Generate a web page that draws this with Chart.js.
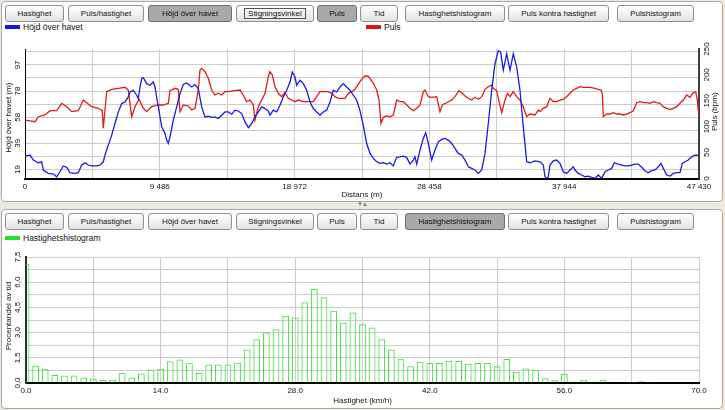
<!DOCTYPE html>
<html><head><meta charset="utf-8">
<script src="https://cdn.jsdelivr.net/npm/chart.js@4.4.0/dist/chart.umd.min.js"></script>
<style>
html,body{margin:0;padding:0;width:725px;height:410px;overflow:hidden;background:#ece9e0;font-family:"Liberation Sans",Arial,sans-serif;}
.panel{position:absolute;background:#fff;border:1px solid #a8a8a8;border-radius:4px;box-sizing:border-box;}
.btn{position:absolute;height:17px;line-height:15px;font-size:8px;text-align:center;border:1px solid #8e8e8e;border-radius:3px;background:linear-gradient(#ffffff,#e2e2e2);color:#111;box-sizing:border-box;white-space:nowrap;}
.btn.on{background:#a9a9a9;border-color:#6e6e6e;}
.btn.focus span{border:1px solid #555;padding:0 3px;}
.leg{position:absolute;font-size:8.5px;line-height:10px;color:#111;}
.sw{position:absolute;width:15px;height:4px;}
canvas{position:absolute;}
#split{position:absolute;left:357px;top:201px;font-size:6px;color:#7a7a7a;letter-spacing:-1px;}
</style>
</head><body>
<div class="panel" style="left:1px;top:1px;width:722px;height:201px;"></div>
<div class="panel" style="left:1px;top:209px;width:722px;height:200px;"></div>
<div id="split">▼▲</div>

<div class="btn" style="left:5px;top:5px;width:59px;">Hastighet</div>
<div class="btn" style="left:68px;top:5px;width:76px;">Puls/hastighet</div>
<div class="btn on" style="left:148px;top:5px;width:84px;">Höjd över havet</div>
<div class="btn focus" style="left:236px;top:5px;width:78px;"><span>Stigningsvinkel</span></div>
<div class="btn on" style="left:317px;top:5px;width:40px;">Puls</div>
<div class="btn" style="left:360px;top:5px;width:38px;">Tid</div>
<div class="btn" style="left:405px;top:5px;width:100px;">Hastighetshistogram</div>
<div class="btn" style="left:508px;top:5px;width:101px;">Puls kontra hastighet</div>
<div class="btn" style="left:617px;top:5px;width:77px;">Pulshistogram</div>

<div class="sw" style="left:5px;top:25px;background:#1515e0;"></div>
<div class="leg" style="left:23px;top:22px;">Höjd över havet</div>
<div class="sw" style="left:366px;top:25px;background:#e01515;"></div>
<div class="leg" style="left:384px;top:22px;">Puls</div>

<div class="btn" style="left:5px;top:213px;width:59px;">Hastighet</div>
<div class="btn" style="left:68px;top:213px;width:76px;">Puls/hastighet</div>
<div class="btn" style="left:148px;top:213px;width:84px;">Höjd över havet</div>
<div class="btn" style="left:236px;top:213px;width:78px;">Stigningsvinkel</div>
<div class="btn" style="left:317px;top:213px;width:40px;">Puls</div>
<div class="btn" style="left:360px;top:213px;width:38px;">Tid</div>
<div class="btn on" style="left:405px;top:213px;width:100px;">Hastighetshistogram</div>
<div class="btn" style="left:508px;top:213px;width:101px;">Puls kontra hastighet</div>
<div class="btn" style="left:617px;top:213px;width:77px;">Pulshistogram</div>

<div class="sw" style="left:5px;top:236px;background:#22e022;"></div>
<div class="leg" style="left:23px;top:233px;">Hastighetshistogram</div>

<canvas id="c1" width="725" height="162" style="left:0;top:40px;width:725px;height:162px;"></canvas>
<canvas id="c2" width="725" height="161" style="left:0;top:247px;width:725px;height:161px;"></canvas>

<script>
// ---------- DATA: top chart (distance in m) ----------
const hojdDist = [0,352,584,936,1175,1288,1640,1991,2231,2463,2695,2934,3167,3519,3751,3990,4222,4454,4694,5045,5278,5510,5630,5862,6101,6333,6566,6805,7037,7269,7389,7621,7860,7973,8093,8212,8325,8564,8796,9028,9148,9380,9620,9852,9971,10084,10204,10436,10675,10907,11139,11379,11731,11963,12195,12434,12667,12899,13138,13370,13603,13842,14074,14306,14546,14778,15010,15249,15481,15714,15953,16185,16417,16657,16889,17121,17241,17473,17712,17944,18176,18416,18648,18810,19000,19120,19352,19584,19823,20055,20288,20527,20759,20991,21231,21463,21695,21935,22167,22399,22638,22870,23103,23342,23574,23806,24046,24278,24510,24750,24982,25214,25453,25685,25918,26157,26389,26621,26861,27093,27325,27444,27564,27796,28028,28197,28380,28619,28852,29084,29323,29555,29787,30027,30259,30491,30731,30963,31195,31434,31667,31899,32138,32370,32603,32842,33074,33306,33475,33658,33897,34129,34362,34601,34833,35065,35305,35537,35889,36241,36473,36592,36712,36825,36944,37177,37416,37648,37880,38120,38352,38584,38704,38936,39175,39407,39639,39879,40111,40343,40583,40815,41047,41286,41469,41751,41990,42222,42454,42694,42926,43158,43398,43630,43862,44102,44334,44566,44755,44917,45156,45389,45621,45860,46092,46254,46444,46676,46916,47148,47380];
const hojd = [29.3,30.1,26.4,24.4,25.1,19.0,16.5,16.0,14.0,17.7,22.0,21.0,17.0,16.5,17.0,22.7,24.4,22.7,22.0,22.0,22.7,25.1,30.1,37.5,44.9,53.5,62.1,68.3,69.5,73.2,76.9,78.2,74.5,72.0,80.6,86.8,87.5,83.1,81.9,84.3,80.6,65.8,51.0,46.1,41.2,38.7,43.6,56.0,65.8,75.7,82.5,83.6,80.6,82.4,79.4,65.8,58.4,58.9,58.0,58.4,57.2,59.7,62.1,62.1,60.4,63.4,62.8,60.9,54.7,50.5,53.5,58.4,62.1,65.8,64.6,62.8,59.7,63.4,62.1,67.1,73.2,78.2,84.3,91.7,88.0,81.9,85.6,83.1,78.2,69.5,64.6,62.1,59.7,62.1,63.4,69.5,78.2,76.9,80.6,83.1,80.6,78.2,74.5,70.8,63.0,52.0,38.7,31.3,27.6,25.1,23.9,24.4,23.4,24.4,22.0,28.4,28.8,29.3,28.4,23.4,26.4,28.8,23.4,33.8,42.4,46.6,38.7,26.4,33.8,39.9,41.7,42.4,41.2,38.7,35.0,31.3,30.1,26.4,21.4,20.2,19.0,16.5,19.0,31.3,53.5,78.2,97.9,107.5,106.5,93.0,105.3,93.0,105.3,95.4,78.2,51.0,25.1,24.4,25.8,25.1,22.7,14.0,12.8,14.0,22.7,25.8,26.4,23.9,17.7,16.5,19.0,21.4,19.0,16.5,15.3,14.0,14.5,13.6,12.8,15.3,12.8,17.7,19.0,20.2,24.4,23.4,22.7,22.0,22.0,22.7,23.4,23.4,21.0,18.5,17.0,18.5,19.0,21.4,23.9,20.2,15.3,14.5,16.5,17.0,17.0,23.9,25.1,26.4,28.8,30.1,29.9];

const pulsDist = [0,704,936,1407,1759,2231,2583,2934,3286,3751,4103,4342,4694,5158,5440,5510,5749,6101,6566,7037,7269,7508,7741,8022,8325,8564,8916,9380,9732,10084,10204,10556,10788,10907,11139,11491,11731,11963,12195,12315,12434,12667,12899,13138,13370,13603,13842,14074,14306,14778,15130,15362,15601,15833,16065,16185,16417,16657,16889,17121,17241,17403,17593,17825,18064,18296,18528,18768,19000,19232,19584,19936,20288,20527,20759,21111,21343,21582,21815,22047,22518,22751,22990,23222,23455,23694,23926,24116,24278,24510,24750,24911,25052,25214,25453,25685,25918,26157,26389,26621,26861,27093,27325,27564,27796,28028,28148,28380,28619,28971,29204,29366,29675,30027,30259,30540,30731,30963,31195,31434,31667,31899,32138,32370,32603,32842,32955,33194,33306,33545,33778,33940,34129,34362,34601,34833,35065,35305,35537,35889,36121,36241,36473,36712,36944,37177,37416,37648,37880,38120,38352,38584,38823,39055,39287,39759,40111,40343,40533,40625,40695,40935,41167,41399,41638,41870,42102,42342,42574,42806,43046,43278,43510,43750,43982,44214,44454,44686,44917,45156,45389,45621,45860,46092,46324,46564,46796,46986,47197,47310,47380,47430];
const puls = [112.9,109.7,119.3,122.6,130.9,130.9,145.2,138.6,129.0,130.9,151.5,146.3,138.6,135.5,130.9,96.9,167.6,172.2,174.1,176.1,170.8,119.3,138.6,152.9,135.5,129.0,138.6,141.9,141.9,145.2,169.5,174.1,172.2,129.0,141.9,140.0,132.2,135.5,170.8,209.5,212.7,206.2,193.4,170.8,161.2,164.5,161.2,167.6,167.6,169.5,170.8,161.2,148.3,151.5,141.9,112.9,138.6,151.5,164.5,196.5,206.2,199.8,177.2,164.5,157.9,165.6,154.8,151.5,148.3,151.5,148.3,148.3,148.3,157.9,167.6,167.6,167.6,164.5,157.9,154.8,154.8,164.5,167.6,172.0,182.0,191.8,198.0,197.9,193.4,183.8,170.8,151.5,106.6,118.1,120.7,119.3,122.6,151.5,148.3,148.3,141.9,135.5,130.9,135.5,141.9,167.6,170.8,157.9,156.8,157.9,129.0,141.9,146.3,151.5,157.9,169.5,165.6,159.3,154.8,151.5,156.8,152.9,157.9,172.2,177.2,180.5,174.1,169.5,154.8,127.0,151.5,164.5,157.9,167.6,157.9,151.5,138.6,119.3,124.5,122.6,132.2,129.0,135.5,138.6,154.8,148.3,148.3,151.5,152.9,157.9,164.5,170.8,174.1,177.2,176.1,176.1,174.1,172.2,170.8,164.5,119.3,124.5,124.5,127.0,124.5,124.5,122.6,124.5,127.0,130.9,146.3,148.3,146.3,146.3,145.2,148.3,146.3,145.2,138.6,135.5,133.6,135.5,138.6,145.2,151.5,161.2,156.8,164.5,167.6,151.5,132.2,119.3];

const distTicks = [0,4743,9486,14229,18972,23715,28458,33201,37944,42687,47430];
const distLabels = ['0','9 486','18 972','28 458','37 944','47 430'];
const hojdGrid = [19.4,29.1,38.8,48.5,58.2,67.9,77.6,87.3,97.0,106.7];
const hojdLabelVals = [19.4,38.8,58.2,77.6,97.0];
const hojdLabels = ['19','39','58','78','97'];
const pulsTicks = [0,50,100,150,200,250];
const pulsLabels = ['0','50','100','150','200','250'];

// ---------- DATA: bottom chart (speed histogram) ----------
const speedBins = [0,1,2,3,4,5,6,7,8,9,10,11,12,13,14,15,16,17,18,19,20,21,22,23,24,25,26,27,28,29,30,31,32,33,34,35,36,37,38,39,40,41,42,43,44,45,46,47,48,49,50,51,52,53,54,55,56,57,58,59,60,61,62,63,64,65];
const speedPct = [7.1,1.03,0.85,0.48,0.44,0.44,0.32,0.26,0.18,0.2,0.6,0.32,0.56,0.8,0.85,1.3,1.4,1.2,0.6,1.1,1.1,1.1,1.2,2.0,2.6,3.0,3.2,4.0,3.9,4.8,5.6,5.1,4.3,3.6,4.2,3.5,3.3,2.6,2.0,1.45,1.0,1.27,1.19,1.19,1.33,1.31,1.15,1.19,1.19,1.0,1.43,0.67,0.87,0.77,0.28,0.16,0.54,0.08,0.2,0.08,0.2,0,0,0.06,0.1,0.04];
const speedTicks = [0,7,14,21,28,35,42,49,56,63,70];
const speedLabels = ['0.0','14.0','28.0','42.0','56.0','70.0'];
const pctGrid = [0,0.75,1.5,2.25,3.0,3.75,4.5,5.25,6.0,6.75,7.5];
const pctLabelVals = [0,1.5,3.0,4.5,6.0,7.5];
const pctLabels = ['0,0','1,5','3,0','4,5','6,0','7,5'];

// ---------- rendering ----------
const FONT = '"Liberation Sans", Arial, sans-serif';
const FS = 8;
Chart.defaults.font.family = FONT;
Chart.defaults.font.size = FS;
Chart.defaults.color = '#111';
Chart.defaults.animation = false;

const rotY = {
  id:'rotY',
  afterDraw(chart, args, opts){
    const ctx = chart.ctx, ca = chart.chartArea;
    ctx.save();
    ctx.fillStyle = '#111';
    ctx.textAlign = 'center';
    ctx.textBaseline = 'middle';
    ctx.font = FS + 'px ' + FONT;
    for (const ax of opts.axes){
      const sc = chart.scales[ax.id];
      ax.vals.forEach((v,i)=>{
        const y = sc.getPixelForValue(v);
        ctx.save(); ctx.translate(ax.x, y); ctx.rotate(-Math.PI/2);
        ctx.fillText(ax.labels[i], 0, 0); ctx.restore();
      });
      ctx.save(); ctx.translate(ax.tx, (ca.top+ca.bottom)/2 + (ax.dy||0)); ctx.rotate(-Math.PI/2);
      ctx.fillText(ax.title, 0, 0); ctx.restore();
    }
    ctx.restore();
  }
};

const GRID = '#cbcbcb';

new Chart(document.getElementById('c1'), {
  type:'line',
  data:{datasets:[
    {label:'Höjd över havet', data:hojdDist.map((d,i)=>({x:d,y:hojd[i]})), yAxisID:'y',
     borderColor:'#1a1ae0', borderWidth:1.3, pointRadius:0, tension:0, fill:false},
    {label:'Puls', data:pulsDist.map((d,i)=>({x:d,y:puls[i]})), yAxisID:'y2',
     borderColor:'#e01a1a', borderWidth:1.3, pointRadius:0, tension:0, fill:false}
  ]},
  options:{
    responsive:false, maintainAspectRatio:false,
    layout:{padding:{top:9,left:0,right:0,bottom:0}},
    plugins:{legend:{display:false}, tooltip:{enabled:false},
      rotY:{axes:[
        {id:'y', x:18, vals:hojdLabelVals, labels:hojdLabels, tx:9, title:'Höjd över havet (m)', dy:4},
        {id:'y2', x:707, vals:pulsTicks, labels:pulsLabels, tx:715, title:'Puls (bpm)', dy:-2}
      ]}},
    scales:{
      x:{type:'linear', min:0, max:47430,
        afterBuildTicks:s=>{s.ticks = distTicks.map(v=>({value:v}));},
        ticks:{autoSkip:false, maxRotation:0, minRotation:0, padding:3,
          callback:(v,i)=> i%2===0 ? distLabels[i/2] : ''},
        grid:{color:GRID, drawTicks:false},
        border:{color:'#000', width:2},
        title:{display:true, text:'Distans (m)', padding:{top:0,bottom:2}},
        afterFit:s=>{s.height=23.5;}
      },
      y:{type:'linear', position:'left', min:12.7, max:108.8,
        afterBuildTicks:s=>{s.ticks = hojdGrid.map(v=>({value:v}));},
        ticks:{display:false},
        grid:{color:GRID, drawTicks:false},
        border:{color:'#000', width:1},
        afterFit:s=>{s.width=25;}
      },
      y2:{type:'linear', position:'right', min:0, max:250,
        afterBuildTicks:s=>{s.ticks = pulsTicks.map(v=>({value:v}));},
        ticks:{display:false},
        grid:{drawOnChartArea:false, drawTicks:false},
        border:{color:'#404040', width:2},
        afterFit:s=>{s.width=26;}
      }
    }
  },
  plugins:[rotY]
});

new Chart(document.getElementById('c2'), {
  type:'bar',
  data:{datasets:[
    {label:'Hastighetshistogram', data:speedBins.map((s,i)=>({x:s,y:speedPct[i]})),
     backgroundColor:'rgba(255,255,255,0)', borderColor:'#44e044', borderWidth:1,
     barPercentage:0.7, categoryPercentage:1, borderSkipped:'start'}
  ]},
  options:{
    responsive:false, maintainAspectRatio:false,
    layout:{padding:{top:10,left:0,right:26,bottom:0}},
    plugins:{legend:{display:false}, tooltip:{enabled:false},
      rotY:{axes:[
        {id:'y', x:18, vals:pctLabelVals, labels:pctLabels, tx:9, title:'Procentandel av tid', dy:-4}
      ]}},
    scales:{
      x:{type:'linear', offset:false, min:0, max:70,
        afterBuildTicks:s=>{s.ticks = speedTicks.map(v=>({value:v}));},
        ticks:{autoSkip:false, maxRotation:0, minRotation:0, padding:3,
          callback:(v,i)=> i%2===0 ? speedLabels[i/2] : ''},
        grid:{color:GRID, drawTicks:false, offset:false},
        border:{color:'#000', width:2},
        title:{display:true, text:'Hastighet (km/h)', padding:{top:0,bottom:2}},
        afterFit:s=>{s.height=25;}
      },
      y:{type:'linear', min:0, max:7.5,
        afterBuildTicks:s=>{s.ticks = pctGrid.map(v=>({value:v}));},
        ticks:{display:false},
        grid:{color:GRID, drawTicks:false},
        border:{color:'#1e3a1e', width:2},
        afterFit:s=>{s.width=26;}
      }
    }
  },
  plugins:[rotY]
});
</script>
</body></html>
